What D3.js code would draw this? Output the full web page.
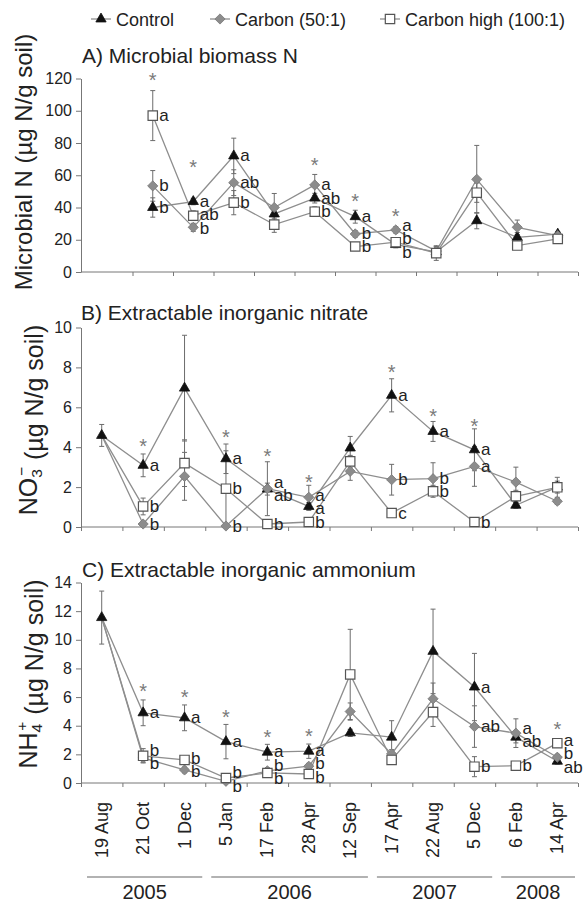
<!DOCTYPE html>
<html>
<head>
<meta charset="utf-8">
<script src="https://cdn.jsdelivr.net/npm/d3@7"></script>
<style>
  body { margin: 0; background: #fff; }
  svg { display: block; font-family: "Liberation Sans", Arial, Helvetica, sans-serif; }
</style>
</head>
<body>
<svg id="chart" width="583" height="905"></svg>
<script>
// Sampling dates (2005 - 2008)
const dates = ["19 Aug", "21 Oct", "1 Dec", "5 Jan", "17 Feb", "28 Apr", "12 Sep",
               "17 Apr", "22 Aug", "5 Dec", "6 Feb", "14 Apr"];
const datesMicro = dates.slice(1);   // no microbial N on 19 Aug

const years = ["2005", "2006", "2007", "2008"];
const yearStart = ["19 Aug", "5 Jan", "17 Apr", "6 Feb"];
const yearEnd = ["1 Dec", "12 Sep", "5 Dec", "14 Apr"];

const seriesNames = ["Control", "Carbon (50:1)", "Carbon high (100:1)"];

// A) Microbial biomass N (µg N/g soil)
const microControl   = [40, 43.7, 72, 36, 45.8, 34.3, 17, 12.5, 31.8, 21.5, 23.5];
const microControlSE = [6, 2, 11, 3, 3, 4, 2, 3, 5, 3, 1.5];
const microCarbon    = [53.4, 27.7, 55.4, 40, 54, 23.6, 26.1, 13, 57.5, 27.7, 22.5];
const microCarbonSE  = [9.5, 2.5, 8, 8.7, 6.5, 2, 2, 3, 21, 4.5, 1.5];
const microHigh      = [97, 34.9, 43, 29.4, 37.4, 15.8, 18.5, 11.7, 49.2, 16.4, 20.5];
const microHighSE    = [15.5, 3, 7.5, 4.8, 3, 2, 2, 4.5, 6, 2, 1.5];
const microControlLtr = ["b", "a", "a", "", "ab", "a", "b", "", "", "", ""];
const microCarbonLtr  = ["b", "b", "ab", "", "a", "b", "a", "", "", "", ""];
const microHighLtr    = ["a", "ab", "b", "", "b", "b", "b", "", "", "", ""];
const microStar = [121.5, 67.6, null, null, 68.6, 46.5, 37.5, null, null, null, null];

// B) Extractable inorganic nitrate (µg N/g soil)
const nitrControl   = [4.59, 3.09, 6.96, 3.42, 1.9, 1.03, 3.96, 6.6, 4.79, 3.87, 1.09, 2.0];
const nitrControlSE = [0.55, 0.57, 2.65, 0.74, 0.3, 0.2, 0.58, 0.83, 0.5, 1.05, 0.15, 0.3];
const nitrCarbon    = [4.59, 0.15, 2.54, 0.05, 1.92, 1.49, 2.79, 2.37, 2.42, 3.04, 2.25, 1.29];
const nitrCarbonSE  = [0, 0.1, 1.2, 0.05, 1.35, 0.6, 0.45, 0.77, 0.8, 1.0, 0.75, 0.15];
const nitrHigh      = [4.59, 1.03, 3.2, 1.92, 0.15, 0.25, 3.29, 0.7, 1.79, 0.25, 1.54, 1.99];
const nitrHighSE    = [0, 0.42, 1.17, 1.9, 0.1, 0.1, 0.3, 0.1, 0.3, 0.1, 0.3, 0.5];
const nitrControlLtr = ["", "a", "", "a", "ab", "a", "", "a", "a", "a", "", ""];
const nitrCarbonLtr  = ["", "b", "", "b", "a", "a", "", "b", "b", "a", "", ""];
const nitrHighLtr    = ["", "b", "", "b", "b", "b", "", "c", "b", "b", "", ""];
const nitrStar = [null, 4.28, null, 4.7, 3.77, 2.47, null, 7.95, 5.78, 5.28, null, null];

// C) Extractable inorganic ammonium (µg N/g soil)
const ammControl   = [11.55, 4.9, 4.55, 2.89, 2.15, 2.22, 3.5, 3.2, 9.19, 6.7, 3.2, 1.52];
const ammControlSE = [1.85, 0.9, 0.9, 1.2, 0.55, 0.5, 0.25, 1.15, 2.95, 2.35, 0.4, 0.2];
const ammCarbon    = [11.55, 1.75, 0.91, 0.12, 0.85, 1.17, 4.99, 2.03, 5.88, 3.94, 3.48, 1.8];
const ammCarbonSE  = [0, 0.3, 0.2, 0.1, 0.2, 0.2, 0.6, 0.3, 1.1, 1.45, 1.0, 0.2];
const ammHigh      = [11.55, 1.9, 1.61, 0.35, 0.7, 0.63, 7.58, 1.61, 4.95, 1.14, 1.21, 2.78];
const ammHighSE    = [0, 0.5, 0.2, 0.2, 0.2, 0.1, 3.15, 0.2, 1.0, 0.7, 0.15, 0.3];
const ammControlLtr = ["", "a", "a", "a", "a", "a", "", "", "", "a", "ab", "ab"];
const ammCarbonLtr  = ["", "b", "b", "b", "b", "b", "", "", "", "ab", "a", "b"];
const ammHighLtr    = ["", "b", "b", "b", "b", "b", "", "", "", "b", "b", "a"];
const ammStar = [null, 6.73, 6.31, 4.91, 3.51, 3.58, null, null, null, null, null, 4.05];

// ---------------------------------------------------------------
const svg = d3.select("#chart");
const axisX = 81, xEnd = 578;
const axisColor = "#777", textColor = "#222", lineColor = "#8e8e8e", errColor = "#6c6c6c";

// marker look per series (Control, Carbon, Carbon high)
const markers = [
  { type: d3.symbolTriangle, size: 46, rot: 0,  fill: "#111",    stroke: "#111" },
  { type: d3.symbolSquare,   size: 52, rot: 45, fill: "#8c8c8c", stroke: "#7a7a7a" },
  { type: d3.symbolSquare,   size: 88, rot: 0,  fill: "#fff",    stroke: "#555" }
];

function spread(items, gap) {
  items.sort((a, b) => a.y - b.y);
  for (let k = 0; k < 40; k++) {
    for (let i = 1; i < items.length; i++) {
      const d = gap - (items[i].y - items[i - 1].y);
      if (d > 0) { items[i - 1].y -= d / 2; items[i].y += d / 2; }
    }
  }
}

function drawPanel(p) {
  const g = svg.append("g");
  const x = d3.scaleBand().domain(p.dates).range([p.x0, xEnd]);
  const cx = d => x(d) + x.bandwidth() / 2;
  const y = d3.scaleLinear().domain([0, p.yMax]).range([p.y0, p.yTop]);

  // Y axis
  const yAxis = g.append("g")
    .attr("transform", `translate(${axisX},0)`)
    .call(d3.axisLeft(y).tickValues(d3.range(0, p.yMax + 1e-9, p.step))
      .tickSize(5).tickSizeOuter(0).tickPadding(4));
  yAxis.select(".domain").attr("stroke", axisColor);
  yAxis.selectAll(".tick line").attr("stroke", axisColor);
  yAxis.selectAll(".tick text").attr("fill", textColor)
    .style("font-size", "16px").style("font-family", "inherit");

  // X axis: line from y axis, ticks at category boundaries
  g.append("line")
    .attr("x1", axisX).attr("x2", xEnd).attr("y1", p.y0).attr("y2", p.y0)
    .attr("stroke", axisColor);
  const xi = d3.scaleLinear().domain([0, p.dates.length]).range([p.x0, xEnd]);
  const xAxis = g.append("g")
    .attr("transform", `translate(0,${p.y0})`)
    .call(d3.axisBottom(xi).tickValues(d3.range(p.dates.length + 1))
      .tickFormat("").tickSize(4).tickSizeOuter(0));
  xAxis.select(".domain").remove();
  xAxis.selectAll(".tick line").attr("stroke", axisColor);

  // Panel title
  g.append("text")
    .attr("x", p.titleX).attr("y", p.titleY)
    .attr("fill", textColor).style("font-size", "21px")
    .text(p.title);

  // Y-axis title
  const yt = g.append("text")
    .attr("transform", `translate(${p.yTitleX},${p.yTitleY}) rotate(-90)`)
    .attr("text-anchor", "middle")
    .attr("fill", textColor).style("font-size", p.yTitleSize + "px");
  p.yTitle(yt);

  const line = d3.line()
    .x((v, i) => cx(p.dates[i]))
    .y(v => y(v));

  // connecting lines
  p.series.forEach(s => {
    g.append("path")
      .attr("d", line(s.values))
      .attr("fill", "none")
      .attr("stroke", lineColor)
      .attr("stroke-width", 1.3);
  });

  // error bars
  p.series.forEach(s => {
    s.values.forEach((v, i) => {
      const e = s.se[i];
      if (!e) return;
      const px = cx(p.dates[i]);
      const eg = g.append("g").attr("stroke", errColor).attr("stroke-width", 1);
      eg.append("line").attr("x1", px).attr("x2", px)
        .attr("y1", y(Math.max(0, v - e))).attr("y2", y(v + e));
      eg.append("line").attr("x1", px - 2.5).attr("x2", px + 2.5)
        .attr("y1", y(v + e)).attr("y2", y(v + e));
      if (v - e > 0) {
        eg.append("line").attr("x1", px - 2.5).attr("x2", px + 2.5)
          .attr("y1", y(v - e)).attr("y2", y(v - e));
      }
    });
  });

  // markers (carbon series share the control marker on the 19 Aug baseline)
  p.series.forEach((s, si) => {
    const m = markers[si];
    s.values.forEach((v, i) => {
      if (si > 0 && p.dates[i] === "19 Aug") return;
      g.append("path")
        .attr("d", d3.symbol().type(m.type).size(m.size)())
        .attr("transform", `translate(${cx(p.dates[i])},${y(v)}) rotate(${m.rot})`)
        .attr("fill", m.fill)
        .attr("stroke", m.stroke)
        .attr("stroke-width", si === 2 ? 1.2 : 0.8);
    });
  });

  // significance letters, spread apart where they collide
  p.dates.forEach((d, i) => {
    const items = [];
    p.series.forEach(s => {
      if (s.letters[i]) items.push({ t: s.letters[i], y: y(s.values[i]) });
    });
    spread(items, 13.5);
    items.forEach(it => {
      g.append("text")
        .attr("x", cx(d) + 6.5).attr("y", it.y + 5.5)
        .attr("fill", textColor).style("font-size", "17px")
        .text(it.t);
    });
    if (p.star[i] != null) {
      g.append("text")
        .attr("x", cx(d)).attr("y", y(p.star[i]) + 11)
        .attr("text-anchor", "middle")
        .attr("fill", "#7a7a7a").style("font-size", "20px")
        .text("*");
    }
  });

  return { x, cx };
}

function unitTitle(prefix, sub, sup) {
  return t => {
    t.append("tspan").text(prefix);
    t.append("tspan").attr("dy", "0.3em").style("font-size", "0.62em").text(sub);
    t.append("tspan").attr("dx", "-0.45em").attr("dy", "-0.95em").style("font-size", "0.62em").text(sup);
    t.append("tspan").attr("dy", "0.65em").text(" (\u00b5g N/g soil)");
  };
}

drawPanel({
  title: "A) Microbial biomass N", titleX: 82, titleY: 63,
  dates: datesMicro, x0: 132.5, yMax: 120, step: 20, y0: 272, yTop: 78.5,
  yTitle: t => t.text("Microbial N (\u00b5g N/g soil)"), yTitleX: 32, yTitleY: 162, yTitleSize: 24,
  series: [
    { values: microControl, se: microControlSE, letters: microControlLtr },
    { values: microCarbon, se: microCarbonSE, letters: microCarbonLtr },
    { values: microHigh, se: microHighSE, letters: microHighLtr }
  ],
  star: microStar
});

drawPanel({
  title: "B) Extractable inorganic nitrate", titleX: 81, titleY: 320,
  dates: dates, x0: axisX, yMax: 10, step: 2, y0: 527, yTop: 327.5,
  yTitle: unitTitle("NO", "3", "\u2212"), yTitleX: 37, yTitleY: 420, yTitleSize: 25,
  series: [
    { values: nitrControl, se: nitrControlSE, letters: nitrControlLtr },
    { values: nitrCarbon, se: nitrCarbonSE, letters: nitrCarbonLtr },
    { values: nitrHigh, se: nitrHighSE, letters: nitrHighLtr }
  ],
  star: nitrStar
});

const pc = drawPanel({
  title: "C) Extractable inorganic ammonium", titleX: 82, titleY: 577,
  dates: dates, x0: axisX, yMax: 14, step: 2, y0: 783, yTop: 582.5,
  yTitle: unitTitle("NH", "4", "+"), yTitleX: 37, yTitleY: 674, yTitleSize: 25,
  series: [
    { values: ammControl, se: ammControlSE, letters: ammControlLtr },
    { values: ammCarbon, se: ammCarbonSE, letters: ammCarbonLtr },
    { values: ammHigh, se: ammHighSE, letters: ammHighLtr }
  ],
  star: ammStar
});

// Date labels under the bottom panel
svg.append("g").selectAll("text")
  .data(dates)
  .join("text")
  .attr("transform", d => `translate(${pc.cx(d) + 6},802) rotate(-90)`)
  .attr("text-anchor", "end")
  .attr("fill", textColor)
  .style("font-size", "18px")
  .text(d => d);

// Year brackets
years.forEach((yr, i) => {
  const x1 = pc.x(yearStart[i]) + 6;
  const x2 = Math.min(pc.x(yearEnd[i]) + pc.x.bandwidth() - 3, xEnd);
  svg.append("line")
    .attr("x1", x1).attr("x2", x2).attr("y1", 877).attr("y2", 877)
    .attr("stroke", "#666").attr("stroke-width", 1.2);
  svg.append("text")
    .attr("x", (x1 + x2) / 2).attr("y", 899)
    .attr("text-anchor", "middle")
    .attr("fill", textColor).style("font-size", "20px")
    .text(yr);
});

// Legend
const legendX = [101, 220, 390];
seriesNames.forEach((name, i) => {
  const m = markers[i];
  const lg = svg.append("g").attr("transform", `translate(${legendX[i]},19)`);
  lg.append("line").attr("x1", -10).attr("x2", 10)
    .attr("stroke", lineColor).attr("stroke-width", 1.3);
  lg.append("path")
    .attr("d", d3.symbol().type(m.type).size(m.size)())
    .attr("transform", `rotate(${m.rot})`)
    .attr("fill", m.fill).attr("stroke", m.stroke)
    .attr("stroke-width", i === 2 ? 1.2 : 0.8);
  lg.append("text")
    .attr("x", 15).attr("y", 6.5)
    .attr("fill", textColor).style("font-size", "18px")
    .text(name);
});
</script>
</body>
</html>
